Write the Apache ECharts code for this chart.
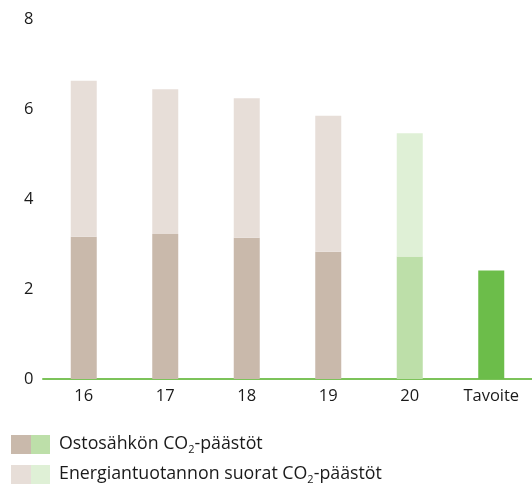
<!DOCTYPE html>
<html>
<head>
<meta charset="utf-8">
<script src="https://cdn.jsdelivr.net/npm/echarts@6/dist/echarts.min.js"></script>
<style>
html,body{margin:0;padding:0;background:#fff;}
#c{width:532px;height:486px;}
</style>
</head>
<body>
<div id="c"></div>
<script>
var categories = ['16', '17', '18', '19', '20', 'Tavoite'];
var purchasedElectricity = [3.16, 3.22, 3.14, 2.83, 2.72, 2.41];
var directEmissions = [3.47, 3.22, 3.10, 3.02, 2.74, null];
var yTicks = [0, 2, 4, 6, 8];
var legendLabels = ['Ostosähkön CO{s|2}-päästöt', 'Energiantuotannon suorat CO{s|2}-päästöt'];
var seriesNames = ['Ostosähkön CO₂-päästöt', 'Energiantuotannon suorat CO₂-päästöt'];

var darkColors = ['#c9b9ab', '#c9b9ab', '#c9b9ab', '#c9b9ab', '#bddfa9', '#6cbd4a'];
var lightColors = ['#e7ded8', '#e7ded8', '#e7ded8', '#e7ded8', '#dff0d6', '#dff0d6'];
var FONT = '"Open Sans", "Noto Sans", sans-serif';
var TEXT = '#1a1a1a';

function legendText(label, y) {
  return {
    type: 'text', left: 59, top: y,
    style: {
      text: label, fill: TEXT, fontSize: 17.8, fontFamily: FONT, lineHeight: 24,
      rich: {s: {fontSize: 11, fontFamily: FONT, fill: TEXT, padding: [11, 0, 0, 0], lineHeight: 24}}
    }
  };
}

var chart = echarts.init(document.getElementById('c'), null, {renderer: 'canvas'});
chart.setOption({
  animation: false,
  backgroundColor: '#ffffff',
  grid: {left: 43, right: -3, top: 19, bottom: 107, containLabel: false},
  xAxis: {
    type: 'category',
    data: categories,
    axisLine: {show: true, lineStyle: {color: '#7cc35a', width: 2}},
    axisTick: {show: false},
    axisLabel: {color: TEXT, fontSize: 16.5, fontFamily: FONT, margin: 9}
  },
  yAxis: {
    type: 'value',
    min: yTicks[0],
    max: yTicks[yTicks.length - 1],
    interval: 2,
    splitLine: {show: false},
    axisLine: {show: false},
    axisTick: {show: false},
    axisLabel: {color: TEXT, fontSize: 16.5, fontFamily: FONT, align: 'left', margin: 19}
  },
  series: [
    {
      name: seriesNames[0],
      type: 'bar',
      stack: 'total',
      barWidth: 26,
      data: purchasedElectricity.map(function (v, i) {
        return {value: v, itemStyle: {color: darkColors[i]}};
      })
    },
    {
      name: seriesNames[1],
      type: 'bar',
      stack: 'total',
      barWidth: 26,
      data: directEmissions.map(function (v, i) {
        return v == null ? '-' : {value: v, itemStyle: {color: lightColors[i]}};
      })
    }
  ],
  graphic: [
    {type: 'rect', shape: {x: 11, y: 435, width: 20, height: 19}, style: {fill: '#c9b9ab'}},
    {type: 'rect', shape: {x: 31, y: 435, width: 19, height: 19}, style: {fill: '#bddfa9'}},
    legendText(legendLabels[0], 432),
    {type: 'rect', shape: {x: 11, y: 465, width: 20, height: 19}, style: {fill: '#e7ded8'}},
    {type: 'rect', shape: {x: 31, y: 465, width: 19, height: 19}, style: {fill: '#dff0d6'}},
    legendText(legendLabels[1], 462)
  ]
});
</script>
</body>
</html>
